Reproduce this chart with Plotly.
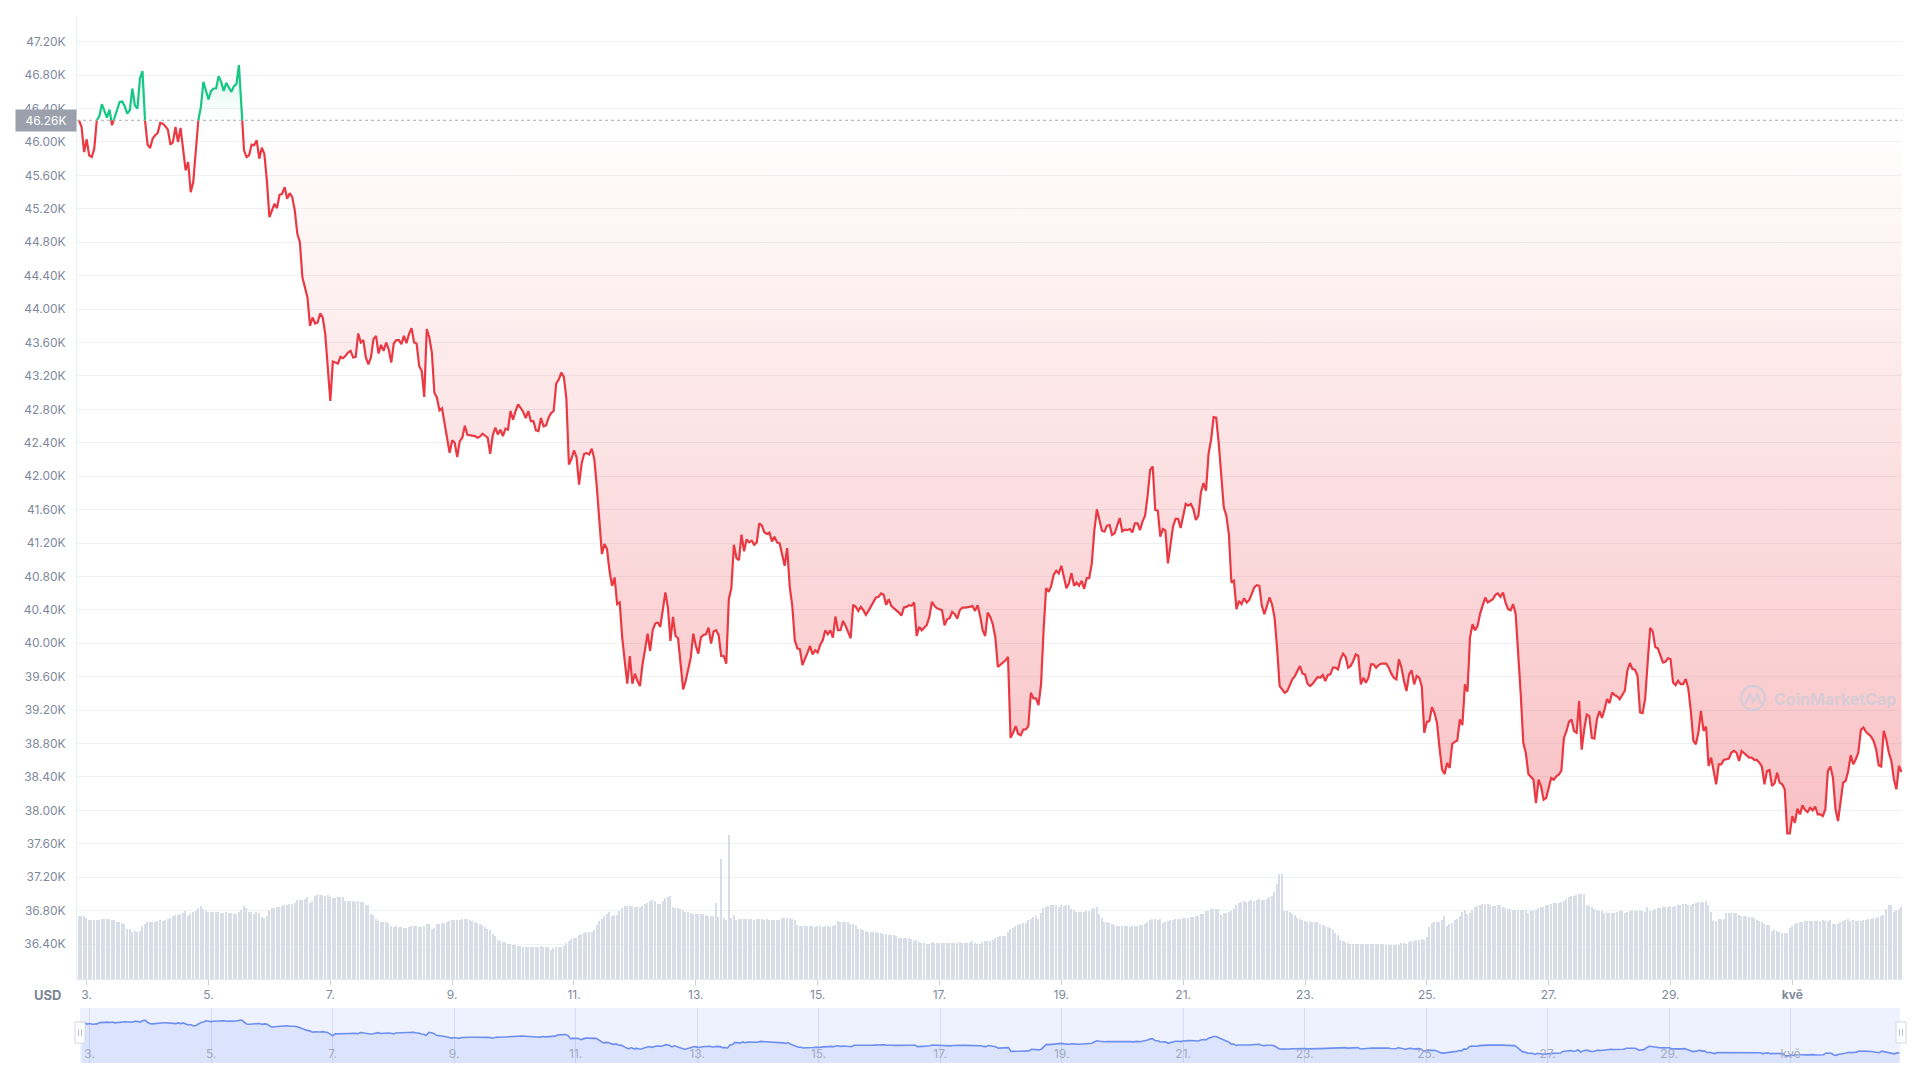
import numpy as np
import pandas as pd
import plotly.graph_objects as go

# ---------------- data (hourly, starting 2022-04-02 21:00) ----------------
START = "2022-04-02 21:00"

price = [
    46260, 46180, 45880, 46032, 45840, 45820, 45920, 46260, 46308, 46452,
    46380, 46292, 46388, 46200, 46292, 46400, 46480, 46484, 46428, 46340,
    46380, 46640, 46440, 46400, 46760, 46848, 46260, 45968, 45928, 46040,
    46080, 46108, 46228, 46220, 46188, 46148, 45968, 46000, 46180, 46000,
    46168, 45940, 45660, 45760, 45400, 45520, 45900, 46260, 46420, 46720,
    46620, 46508, 46612, 46640, 46640, 46788, 46720, 46612, 46708, 46648,
    46600, 46668, 46692, 46920, 46412, 45900, 45820, 45840, 45968, 45960,
    46020, 45800, 45932, 45860, 45540, 45100, 45180, 45260, 45208, 45368,
    45380, 45460, 45320, 45388, 45340, 45180, 44900, 44800, 44380, 44260,
    44140, 43800, 43900, 43828, 43840, 43948, 43900, 43700, 43300, 42900,
    43372, 43360, 43348, 43428, 43412, 43440, 43480, 43500, 43420, 43428,
    43708, 43600, 43628, 43420, 43340, 43420, 43640, 43680, 43468, 43572,
    43500, 43600, 43520, 43360, 43588, 43628, 43628, 43580, 43680, 43592,
    43700, 43772, 43600, 43588, 43320, 43260, 42948, 43760, 43660, 43480,
    43000, 42940, 42788, 42812, 42640, 42440, 42280, 42428, 42400, 42228,
    42420, 42460, 42604, 42496, 42488, 42484, 42480, 42460, 42476, 42508,
    42480, 42460, 42268, 42488, 42580, 42500, 42556, 42480, 42568, 42556,
    42780, 42676, 42780, 42860, 42816, 42768, 42696, 42780, 42660, 42660,
    42548, 42540, 42696, 42596, 42608, 42700, 42756, 42780, 43108, 43156,
    43240, 43188, 42928, 42140, 42208, 42308, 42228, 41900, 42148, 42268,
    42276, 42260, 42328, 42208, 41868, 41488, 41068, 41188, 41128, 40868,
    40688, 40788, 40468, 40488, 40068, 39788, 39516, 39848, 39516, 39636,
    39548, 39488, 39748, 39928, 40116, 39908, 40156, 40236, 40248, 40196,
    40428, 40608, 40428, 40028, 40316, 40088, 40060, 39748, 39448, 39548,
    39708, 39828, 40116, 39968, 39876, 40068, 40100, 40108, 40188, 39996,
    40140, 40156, 40096, 39848, 39848, 39756, 40528, 40660, 41180, 41020,
    40996, 41300, 41100, 41244, 41208, 41228, 41180, 41208, 41436, 41408,
    41328, 41308, 41324, 41220, 41276, 41208, 41196, 41048, 40928, 41140,
    40676, 40448, 40036, 39940, 39928, 39740, 39808, 39888, 39968, 39868,
    39916, 39888, 39980, 40036, 40156, 40108, 40156, 40068, 40320, 40156,
    40156, 40268, 40208, 40140, 40060, 40460, 40436, 40388, 40436, 40396,
    40340, 40388, 40444, 40484, 40548, 40556, 40596, 40580, 40460, 40528,
    40448, 40420, 40396, 40368, 40332, 40428, 40436, 40456, 40448, 40488,
    40088, 40196, 40156, 40188, 40220, 40316, 40496, 40448, 40420, 40408,
    40396, 40216, 40288, 40300, 40376, 40348, 40296, 40396, 40428, 40428,
    40428, 40436, 40448, 40388, 40456, 40328, 40156, 40088, 40368, 40316,
    40228, 40068, 39716, 39740, 39768, 39796, 39836, 38868, 38928, 39008,
    38916, 38900, 38968, 38968, 39008, 39408, 39340, 39340, 39260, 39508,
    40148, 40660, 40616, 40688, 40820, 40868, 40836, 40928, 40796, 40660,
    40716, 40840, 40688, 40728, 40688, 40748, 40652, 40780, 40780, 40956,
    41348, 41604, 41476, 41348, 41336, 41408, 41416, 41296, 41316, 41408,
    41500, 41340, 41360, 41356, 41368, 41328, 41436, 41436, 41356, 41460,
    41528, 41768, 42076, 42116, 41596, 41588, 41276, 41368, 41348, 40956,
    41188, 41396, 41488, 41488, 41380, 41540, 41668, 41648, 41668, 41608,
    41476, 41528, 41808, 41916, 41828, 42268, 42436, 42708, 42700, 42400,
    42000, 41628, 41528, 41308, 40728, 40748, 40408, 40508, 40468, 40540,
    40488, 40516, 40588, 40668, 40696, 40688, 40448, 40348, 40448, 40548,
    40468, 40308, 39948, 39488, 39448, 39408, 39428, 39508, 39568, 39608,
    39668, 39728, 39636, 39628, 39516, 39488, 39516, 39556, 39596, 39588,
    39620, 39548, 39620, 39628, 39708, 39708, 39688, 39808, 39876, 39836,
    39708, 39728, 39788, 39868, 39848, 39508, 39588, 39528, 39588, 39748,
    39748, 39708, 39740, 39756, 39756, 39756, 39708, 39636, 39588, 39568,
    39808, 39708, 39548, 39428, 39628, 39676, 39508, 39608, 39588, 39488,
    38928, 39060, 39068, 39236, 39168, 39048, 38748, 38488, 38436, 38568,
    38508, 38796, 38820, 38836, 39088, 39020, 39508, 39420, 40068, 40228,
    40156, 40208, 40356, 40448, 40548, 40488, 40508, 40528, 40580, 40596,
    40556, 40608, 40488, 40408, 40396, 40468, 40348, 39908, 39388, 38808,
    38688, 38436, 38408, 38368, 38088, 38368, 38288, 38128, 38148, 38268,
    38388, 38368, 38408, 38428, 38476, 38868, 38948, 39060, 39088, 38948,
    38928, 39308, 38728, 38968, 39148, 39128, 38868, 38860, 39088, 39188,
    39108, 39208, 39332, 39284, 39412, 39380, 39364, 39332, 39380, 39432,
    39672, 39764, 39692, 39684, 39612, 39172, 39164, 39332, 39772, 40184,
    40140, 39952, 39940, 39852, 39772, 39780, 39820, 39812, 39532, 39500,
    39552, 39512, 39512, 39572, 39460, 39192, 38832, 38792, 38932, 39192,
    38952, 39004, 38532, 38632, 38472, 38312, 38552, 38552, 38604, 38612,
    38620, 38692, 38712, 38692, 38592, 38712, 38684, 38652, 38632, 38632,
    38604, 38604, 38572, 38524, 38312, 38472, 38484, 38292, 38324, 38452,
    38332, 38312, 38252, 37724, 37724, 37932, 37852, 38020, 37952, 38060,
    38004, 37980, 38032, 38000, 38044, 37952, 37952, 37932, 38012, 38472,
    38524, 38392, 38012, 37872, 38132, 38332, 38352, 38472, 38660, 38552,
    38612, 38692, 38964, 38992, 38940, 38912, 38884, 38832, 38732, 38540,
    38524, 38952, 38852, 38692, 38592, 38372, 38252, 38532, 38460,
]

# 24h volume, billions USD
volume = [
    18.9, 18.9, 18.9, 18.2, 17.7, 17.7, 17.7, 17.7, 17.7, 18.0,
    18.0, 18.0, 18.0, 17.7, 17.7, 17.0, 17.0, 16.7, 16.4, 15.0,
    15.0, 14.2, 14.4, 14.2, 14.4, 15.9, 16.5, 17.0, 17.0, 17.0,
    17.2, 17.3, 17.6, 17.3, 17.7, 18.1, 18.4, 18.8, 19.2, 19.2,
    19.4, 19.7, 20.4, 18.8, 19.4, 20.0, 20.4, 21.2, 21.9, 20.9,
    20.5, 20.2, 20.0, 20.0, 20.0, 20.0, 19.7, 19.7, 20.0, 19.7,
    19.7, 19.4, 19.4, 20.0, 20.7, 21.9, 21.2, 20.0, 20.0, 19.4,
    20.0, 19.7, 18.7, 18.4, 18.9, 20.7, 21.2, 21.2, 21.5, 21.6,
    22.0, 22.2, 22.2, 22.5, 22.5, 22.9, 23.6, 23.6, 23.6, 24.0,
    24.6, 22.7, 23.4, 24.9, 25.2, 25.2, 25.2, 24.9, 25.2, 24.6,
    24.2, 24.2, 24.6, 24.6, 24.6, 23.4, 23.4, 23.4, 23.4, 23.0,
    23.4, 23.0, 23.0, 22.2, 22.2, 19.4, 19.2, 18.0, 17.4, 17.0,
    17.0, 17.0, 16.7, 15.9, 15.7, 15.9, 15.6, 15.6, 15.3, 15.3,
    15.6, 15.9, 15.9, 15.9, 15.6, 15.6, 15.9, 16.4, 16.4, 14.9,
    15.3, 16.4, 16.4, 16.7, 16.7, 17.0, 17.3, 17.6, 17.6, 17.6,
    17.6, 17.9, 17.9, 17.9, 17.6, 17.3, 17.0, 16.7, 16.4, 16.2,
    15.6, 14.9, 14.6, 13.4, 12.8, 11.7, 11.4, 11.1, 11.1, 10.5,
    10.5, 10.2, 10.2, 9.9, 9.9, 9.6, 9.6, 9.6, 9.6, 9.6,
    9.6, 9.6, 9.9, 9.6, 9.6, 9.6, 8.7, 9.3, 9.6, 9.6,
    9.6, 10.0, 10.8, 11.4, 11.9, 12.2, 12.4, 13.2, 13.6, 13.8,
    14.0, 14.2, 14.2, 14.6, 16.2, 17.3, 18.0, 18.9, 19.5, 20.0,
    18.8, 19.2, 19.2, 20.4, 21.3, 21.9, 21.9, 21.9, 21.9, 21.6,
    21.6, 21.6, 21.9, 22.5, 22.9, 23.4, 23.7, 23.4, 22.5, 22.5,
    23.4, 24.2, 24.6, 24.9, 21.6, 21.2, 21.2, 21.0, 20.7, 20.0,
    20.0, 19.7, 19.4, 19.4, 19.4, 19.4, 19.4, 19.2, 19.0, 18.9,
    18.9, 22.8, 18.6, 36.0, 18.2, 17.6, 43.2, 18.2, 19.2, 17.6,
    18.0, 17.9, 17.9, 17.9, 17.9, 17.9, 17.6, 17.9, 17.9, 17.9,
    17.6, 17.9, 17.6, 17.6, 17.6, 17.6, 17.6, 18.2, 18.2, 18.2,
    18.2, 17.9, 17.6, 16.2, 15.9, 15.9, 15.9, 15.9, 15.9, 15.9,
    15.6, 15.9, 15.9, 15.6, 15.9, 15.9, 15.6, 15.9, 16.2, 17.4,
    17.0, 17.0, 17.0, 17.0, 16.4, 16.4, 16.2, 15.0, 15.0, 14.7,
    14.4, 14.0, 14.0, 14.0, 14.0, 13.7, 13.7, 13.4, 13.4, 13.1,
    13.1, 13.1, 12.8, 12.2, 12.2, 12.2, 12.2, 12.2, 11.9, 11.4,
    11.6, 11.0, 10.7, 10.7, 10.4, 10.4, 11.0, 10.7, 10.7, 10.7,
    10.7, 10.7, 10.7, 10.7, 10.7, 10.7, 10.7, 11.0, 10.7, 10.7,
    10.7, 11.0, 11.3, 10.7, 10.4, 10.4, 11.0, 11.3, 11.3, 11.3,
    11.6, 12.2, 12.5, 12.8, 12.8, 12.8, 14.2, 15.0, 15.2, 15.9,
    16.2, 16.5, 16.7, 16.7, 17.6, 17.9, 18.5, 18.8, 17.9, 19.7,
    21.2, 21.6, 21.9, 22.1, 22.1, 22.1, 21.6, 22.1, 21.9, 22.1,
    22.1, 21.0, 20.6, 20.0, 20.0, 20.0, 20.0, 20.4, 20.4, 20.9,
    21.2, 21.5, 19.4, 18.2, 17.0, 17.0, 16.7, 16.5, 16.2, 15.9,
    15.9, 15.9, 15.9, 15.9, 15.6, 15.9, 15.9, 15.9, 16.2, 16.2,
    16.5, 17.0, 17.6, 17.9, 17.9, 17.6, 17.9, 16.7, 17.0, 17.3,
    17.6, 17.6, 17.9, 17.9, 17.9, 18.2, 18.2, 18.2, 18.5, 18.5,
    18.8, 18.8, 19.4, 19.4, 20.4, 20.4, 20.9, 20.9, 20.9, 20.9,
    19.2, 19.7, 19.7, 20.0, 20.4, 20.9, 22.2, 22.8, 23.1, 23.4,
    23.1, 23.4, 23.7, 23.4, 23.7, 24.0, 23.7, 23.7, 24.0, 24.6,
    24.9, 26.0, 28.4, 31.4, 31.4, 20.4, 20.4, 20.0, 19.4, 19.2,
    18.2, 17.9, 17.6, 17.3, 17.0, 17.0, 17.0, 17.0, 17.0, 16.4,
    16.2, 15.9, 15.5, 15.2, 14.6, 13.8, 13.2, 11.7, 11.4, 11.1,
    10.8, 10.5, 10.5, 10.5, 10.5, 10.5, 10.5, 10.5, 10.5, 10.5,
    10.5, 10.5, 10.5, 10.5, 10.5, 10.2, 10.2, 10.2, 10.2, 10.2,
    10.2, 10.8, 10.8, 10.5, 11.1, 11.4, 11.4, 11.7, 11.7, 12.0,
    11.7, 12.6, 15.6, 16.8, 17.1, 17.1, 17.1, 17.7, 18.9, 15.9,
    16.5, 16.9, 17.6, 18.0, 18.9, 20.0, 20.6, 19.5, 19.9, 20.7,
    21.6, 22.0, 22.2, 22.6, 22.4, 22.5, 22.2, 21.9, 21.9, 22.2,
    22.2, 21.6, 21.2, 21.0, 21.0, 20.7, 20.7, 20.7, 20.7, 20.7,
    20.7, 19.7, 20.4, 20.4, 20.7, 21.2, 21.6, 21.6, 22.2, 22.2,
    22.5, 22.8, 22.8, 22.8, 23.1, 23.4, 24.0, 24.6, 24.9, 24.9,
    25.2, 25.4, 25.4, 25.4, 22.2, 21.9, 21.6, 21.0, 20.7, 20.4,
    20.4, 19.8, 19.8, 19.8, 19.8, 19.8, 20.0, 20.4, 20.4, 19.8,
    20.0, 20.4, 20.7, 20.4, 20.4, 20.4, 20.4, 20.0, 21.6, 20.4,
    20.7, 21.0, 21.2, 21.4, 21.6, 21.6, 21.6, 21.9, 21.6, 21.9,
    22.2, 22.2, 22.5, 22.5, 22.2, 22.2, 22.5, 22.8, 23.1, 23.2,
    23.1, 23.4, 22.2, 20.0, 17.3, 17.3, 18.0, 18.0, 18.0, 19.8,
    19.8, 19.8, 19.8, 19.8, 19.2, 18.9, 18.9, 18.9, 18.6, 18.6,
    18.3, 17.7, 17.4, 17.0, 16.4, 16.2, 16.2, 14.4, 14.7, 14.4,
    14.1, 13.8, 13.8, 13.8, 15.3, 15.9, 16.4, 16.7, 17.0, 17.0,
    17.3, 17.3, 17.3, 17.3, 17.3, 17.3, 17.3, 17.6, 17.3, 17.3,
    17.6, 16.4, 16.4, 16.4, 17.0, 17.3, 17.6, 17.9, 17.3, 17.6,
    17.3, 17.3, 17.3, 17.6, 17.6, 17.9, 17.9, 18.2, 18.2, 18.5,
    18.8, 19.2, 21.0, 22.2, 22.2, 20.0, 20.7, 21.0, 21.6,
]

y_tick_values = [36400, 36800, 37200, 37600, 38000, 38400, 38800, 39200, 39600,
                 40000, 40400, 40800, 41200, 41600, 42000, 42400, 42800, 43200,
                 43600, 44000, 44400, 44800, 45200, 45600, 46000, 46400, 46800, 47200]
y_tick_labels = [f"{v/1000:.2f}K" for v in y_tick_values]

x_tick_dates = ["2022-04-03", "2022-04-05", "2022-04-07", "2022-04-09", "2022-04-11",
                "2022-04-13", "2022-04-15", "2022-04-17", "2022-04-19", "2022-04-21",
                "2022-04-23", "2022-04-25", "2022-04-27", "2022-04-29", "2022-05-01"]
x_tick_labels = ["3.", "5.", "7.", "9.", "11.", "13.", "15.", "17.", "19.", "21.",
                 "23.", "25.", "27.", "29.", "kvě"]

if len(price) != len(volume):
    raise SystemExit(f"length mismatch price={len(price)} volume={len(volume)}")

# ---------------- geometry ----------------
OFF = 8                      # default body margin of the html page
FIG_W, FIG_H = 1920 - 2 * OFF, 1080 - 2 * OFF
L_REF, R_REF, T_REF, B_REF = 77, 1902, 17, 1063
ML, MR, MT, MB = L_REF - OFF, FIG_W - (R_REF - OFF), T_REF - OFF, FIG_H - (B_REF - OFF)
PW, PH = R_REF - L_REF, B_REF - T_REF


def px(xr):
    return (xr - L_REF) / PW


def py(yr):
    return 1 - (yr - T_REF) / PH


MAIN_BOTTOM = 979
NAV_TOP = 1008

# ---------------- series prep ----------------
p = np.array(price, dtype=float)
base = p[0]
hrs = np.arange(len(p), dtype=float)
xs, ys = [hrs[0]], [p[0]]
for i in range(1, len(p)):
    a, b = p[i - 1], p[i]
    if (a - base) * (b - base) < 0:
        t = (base - a) / (b - a)
        xs.append(hrs[i - 1] + t)
        ys.append(base)
    xs.append(hrs[i])
    ys.append(b)
xs = np.array(xs)
ys = np.array(ys)
t0 = pd.Timestamp(START)
tx = t0 + pd.to_timedelta(xs, unit="h")
th = t0 + pd.to_timedelta(hrs, unit="h")

red_line = np.where(ys <= base, ys, np.nan)
green_line = np.where(ys >= base, ys, np.nan)
red_fill = np.minimum(ys, base)
green_fill = np.maximum(ys, base)
base_arr = np.full(len(xs), base)

RED = "#ea3943"
GREEN = "#16c784"
GRAY = "#808a9d"
TICK_SIZE = 12

x_range = [t0 - pd.Timedelta(hours=0.8), t0 + pd.Timedelta(hours=len(p) - 1 + 0.2)]
y_range = [35982, 47496]
vol_px_per_unit = 10 / 3
vol_range = [0, (MAIN_BOTTOM - T_REF) / vol_px_per_unit]

fig = go.Figure()

# volume bars
fig.add_trace(go.Bar(
    x=th, y=volume, yaxis="y2", xaxis="x",
    marker=dict(color="#d8dde8", line=dict(width=0)),
    width=0.58 * 3600 * 1000, hoverinfo="skip", showlegend=False,
))

# red fill (below baseline)
fig.add_trace(go.Scatter(x=tx, y=base_arr, mode="lines", line=dict(width=0),
                         hoverinfo="skip", showlegend=False))
fig.add_trace(go.Scatter(
    x=tx, y=red_fill, mode="lines", line=dict(width=0), fill="tonexty",
    fillgradient=dict(type="vertical",
                      colorscale=[[0, "rgba(234,57,67,0.32)"], [1, "rgba(234,57,67,0.0)"]],
                      start=37600, stop=base),
    hoverinfo="skip", showlegend=False))
# green fill (above baseline)
fig.add_trace(go.Scatter(x=tx, y=base_arr, mode="lines", line=dict(width=0),
                         hoverinfo="skip", showlegend=False))
fig.add_trace(go.Scatter(
    x=tx, y=green_fill, mode="lines", line=dict(width=0), fill="tonexty",
    fillgradient=dict(type="vertical",
                      colorscale=[[0, "rgba(22,199,132,0.0)"], [1, "rgba(22,199,132,0.18)"]],
                      start=base, stop=47000),
    hoverinfo="skip", showlegend=False))

# price line
fig.add_trace(go.Scatter(x=tx, y=red_line, mode="lines",
                         line=dict(color=RED, width=2.2), hoverinfo="skip", showlegend=False))
fig.add_trace(go.Scatter(x=tx, y=green_line, mode="lines",
                         line=dict(color=GREEN, width=2.2), hoverinfo="skip", showlegend=False))

# navigator
fig.add_trace(go.Scatter(
    x=th, y=price, xaxis="x2", yaxis="y3", mode="lines",
    line=dict(color="#6f8ef2", width=1.6), fill="tozeroy",
    fillcolor="rgba(110,140,240,0.14)", hoverinfo="skip", showlegend=False))

main_dom = [py(MAIN_BOTTOM), 1]
nav_dom = [py(B_REF), py(NAV_TOP)]

fig.update_layout(
    width=FIG_W, height=FIG_H,
    margin=dict(l=ML, r=MR, t=MT, b=MB, pad=0),
    paper_bgcolor="white", plot_bgcolor="white",
    font=dict(family="Inter, 'Noto Sans', sans-serif", size=TICK_SIZE, color=GRAY),
    showlegend=False, bargap=0,
    xaxis=dict(
        domain=[0, 1], anchor="y", type="date", range=x_range,
        tickmode="array", tickvals=x_tick_dates,
        ticktext=[("<b>%s</b>" % t if t == "kvě" else t) for t in x_tick_labels],
        ticks="outside", ticklen=5, tickcolor="#c9d0dc", tickwidth=1,
        showline=True, linecolor="#e4e8ee", linewidth=1,
        showgrid=False, zeroline=False,
        tickfont=dict(size=TICK_SIZE, color=GRAY),
    ),
    yaxis=dict(
        domain=main_dom, anchor="x", range=y_range,
        tickmode="array", tickvals=y_tick_values, ticktext=y_tick_labels,
        showgrid=True, gridcolor="#eff2f5", gridwidth=1,
        showline=True, linecolor="#eceff3", linewidth=1,
        zeroline=False, ticks="", ticklabelstandoff=8,
        tickfont=dict(size=TICK_SIZE, color=GRAY),
    ),
    yaxis2=dict(
        domain=main_dom, overlaying="y", anchor="x", range=vol_range,
        visible=False, showgrid=False, zeroline=False,
    ),
    xaxis2=dict(
        domain=[px(80), px(1900)], anchor="y3", type="date", range=x_range,
        tickmode="array", tickvals=x_tick_dates, ticktext=x_tick_labels,
        ticklabelposition="inside", ticks="", showline=False,
        showgrid=True, gridcolor="rgba(190,202,235,0.55)", gridwidth=1,
        zeroline=False, tickfont=dict(size=TICK_SIZE, color="#a3acbf"),
    ),
    yaxis3=dict(
        domain=nav_dom, anchor="x2", range=[35900, 50000],
        visible=False, showgrid=False, zeroline=False,
    ),
)

shapes = []
# navigator background
shapes.append(dict(type="rect", xref="paper", yref="paper",
                   x0=px(80), x1=px(1900), y0=nav_dom[0], y1=nav_dom[1],
                   fillcolor="#eef2fe", line=dict(width=0), layer="below"))
# baseline (opening price) dotted line
shapes.append(dict(type="line", xref="paper", yref="y", x0=0, x1=1, y0=base, y1=base,
                   line=dict(color="#a3aab6", width=1, dash="dot"), layer="above"))
# navigator handles
for xa, xb in [(75, 85), (1896, 1906)]:
    shapes.append(dict(type="rect", xref="paper", yref="paper",
                       x0=px(xa), x1=px(xb), y0=py(1043), y1=py(1022),
                       fillcolor="white", line=dict(color="#d3d8e2", width=1)))
    for xm in (xa + 3.5, xa + 6.5):
        shapes.append(dict(type="line", xref="paper", yref="paper",
                           x0=px(xm), x1=px(xm), y0=py(1036), y1=py(1029),
                           line=dict(color="#b9c0cc", width=1)))
# watermark logo
WM = "rgba(196,204,219,0.65)"
shapes.append(dict(type="circle", xref="paper", yref="paper",
                   x0=px(1741), x1=px(1765), y0=py(710), y1=py(686),
                   line=dict(color=WM, width=2.5)))
zig = [(1745, 704), (1750, 694), (1753, 702), (1757, 694), (1761, 704)]
path = "M " + " L ".join(f"{px(a)},{py(b)}" for a, b in zig)
shapes.append(dict(type="path", xref="paper", yref="paper", path=path,
                   line=dict(color=WM, width=2.5)))
fig.update_layout(shapes=shapes)

annotations = [
    dict(xref="paper", yref="y", x=0, y=base, xanchor="right", yanchor="middle",
         text=f"{base/1000:.2f}K", showarrow=False, bgcolor="#9aa1ad",
         font=dict(color="white", size=TICK_SIZE), borderpad=4, width=52, height=13),
    dict(xref="paper", yref="paper", x=px(47), y=py(995), xanchor="center",
         yanchor="middle", text="<b>USD</b>", showarrow=False,
         font=dict(color="#7c8698", size=13)),
    dict(xref="paper", yref="paper", x=px(1772), y=py(699), xanchor="left",
         yanchor="middle", text="<b>CoinMarketCap</b>", showarrow=False,
         font=dict(color=WM, size=16)),
]
fig.update_layout(annotations=annotations)

fig.write_html("out.html")
